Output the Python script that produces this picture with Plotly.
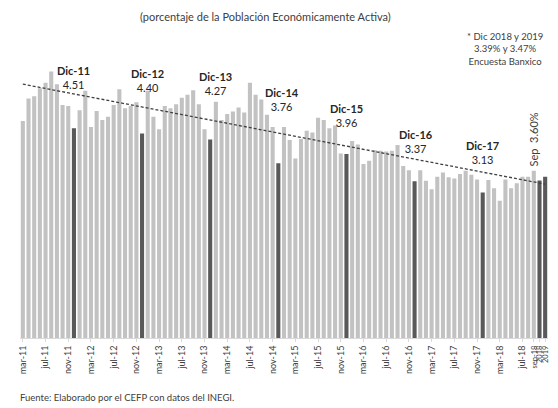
import plotly.graph_objects as go

# ---------------- data ----------------
months = ["ene", "feb", "mar", "abr", "may", "jun", "jul", "ago", "sep", "oct", "nov", "dic"]

u2011 = [4.67, 5.15, 5.20, 5.37, 5.49, 5.73, 5.46, 5.01, 4.99, 4.51]            # mar-dic
u2012 = [4.90, 5.32, 4.54, 4.88, 4.69, 4.76, 5.01, 5.35, 4.94, 4.99, 5.07, 4.40]
u2013 = [5.32, 4.76, 4.49, 4.99, 4.94, 5.03, 5.17, 5.23, 5.33, 5.03, 4.49, 4.27]
u2014 = [5.08, 4.69, 4.82, 4.87, 4.96, 4.85, 5.49, 5.23, 5.13, 4.80, 4.54, 3.76]
u2015 = [4.54, 4.26, 3.86, 4.28, 4.46, 4.42, 4.74, 4.69, 4.51, 4.57, 3.97, 3.96]
u2016 = [4.24, 4.16, 3.74, 3.81, 4.04, 4.03, 4.01, 4.03, 4.15, 3.70, 3.61, 3.37]
u2017 = [3.61, 3.38, 3.20, 3.47, 3.56, 3.46, 3.43, 3.53, 3.60, 3.51, 3.41, 3.13]
u2018 = [3.40, 3.22, 2.95, 3.41, 3.22, 3.33, 3.47, 3.47, 3.60]                  # ene-sep
forecast_labels = ["2018", "2019"]
forecast_values = [3.39, 3.47]

trend_values = [5.46, 3.31]   # dotted trend line, start / end

dec_labels = ["Dic-11", "Dic-12", "Dic-13", "Dic-14", "Dic-15", "Dic-16", "Dic-17"]
dec_values = [4.51, 4.40, 4.27, 3.76, 3.96, 3.37, 3.13]

# ---------------- build series ----------------
yearly = [("11", u2011, 2), ("12", u2012, 0), ("13", u2013, 0), ("14", u2014, 0),
          ("15", u2015, 0), ("16", u2016, 0), ("17", u2017, 0), ("18", u2018, 0)]
cats, vals = [], []
for yy, series, start in yearly:
    for k, v in enumerate(series):
        cats.append(f"{months[start + k]}-{yy}")
        vals.append(v)
cats += forecast_labels
vals += forecast_values

LIGHT = "#c2c2c2"
DARK = "#595959"
colors = [DARK if (c.startswith("dic") or c in forecast_labels) else LIGHT for c in cats]

main_ticks = [c for c in cats if c[:3] in ("mar", "jul", "nov")]
end_ticks = ["sep-18"] + forecast_labels
tickvals = main_ticks + end_ticks
ticktext = main_ticks + [f"<span style='font-size:7.5px'>{t}</span>" for t in end_ticks]

fig = go.Figure()
fig.add_trace(go.Bar(x=cats, y=vals, marker=dict(color=colors, line=dict(width=0)),
                     hoverinfo="x+y"))
fig.add_trace(go.Scatter(x=[cats[0], cats[-1]], y=trend_values, mode="lines",
                         line=dict(color="#404040", width=1.3, dash="3px,2px"),
                         hoverinfo="skip"))

FONT = "Lato"
PLOT_BOTTOM = 338
PLOT_H = 318

def py(pix):
    return (PLOT_BOTTOM - pix) / PLOT_H

def px(pix):
    return (pix - 20) / 528

# December labels
label_center = [5.61, 5.53, 5.47, 5.14, 4.79, 4.22, 3.98]
label_shift = [0, 5, 5, 4, 0, 1, 0]
for lab, v, yc, xs in zip(dec_labels, dec_values, label_center, label_shift):
    cat = "dic-" + lab[-2:]
    fig.add_annotation(x=cat, y=yc, xref="x", yref="y", showarrow=False,
                       text=f"<b>{lab}</b><br>{v:.2f}", xshift=xs,
                       xanchor="center", yanchor="middle",
                       font=dict(family=FONT, size=11, color="#262626"),
                       align="center")

# Sep label (rotated)
fig.add_annotation(x="sep-18", y=u2018[-1], xref="x", yref="y", showarrow=False,
                   text=f"Sep  {u2018[-1]:.2f}%", textangle=-90, yanchor="bottom",
                   xanchor="center", yshift=2,
                   font=dict(family=FONT, size=11, color="#404040"))

# Title
fig.add_annotation(x=px(265), y=py(16), xref="paper", yref="paper", showarrow=False,
                   text="(porcentaje de la Población Económicamente Activa)",
                   xanchor="center", yanchor="middle",
                   font=dict(family=FONT, size=11, color="#404040"))

# Note box
fig.add_annotation(x=px(505), y=py(29), xref="paper", yref="paper", showarrow=False,
                   text=(f"* Dic {forecast_labels[0]} y {forecast_labels[1]}<br>"
                         f"{forecast_values[0]:.2f}% y {forecast_values[1]:.2f}%<br>Encuesta Banxico"),
                   align="center", xanchor="center", yanchor="top",
                   font=dict(family=FONT, size=9.5, color="#404040"))

# Footer
fig.add_annotation(x=px(18), y=py(397), xref="paper", yref="paper", showarrow=False,
                   text="Fuente: Elaborado por el CEFP con datos del INEGI.",
                   xanchor="left", yanchor="middle",
                   font=dict(family=FONT, size=9.5, color="#404040"))

fig.update_layout(
    width=558, height=408,
    margin=dict(l=20, r=10, t=20, b=70),
    paper_bgcolor="white", plot_bgcolor="white",
    showlegend=False, bargap=0.28,
    xaxis=dict(type="category", categoryorder="array", categoryarray=cats,
               tickmode="array", tickvals=tickvals, ticktext=ticktext,
               tickangle=-90, tickfont=dict(family=FONT, size=9, color="#404040"),
               showline=True, linecolor="#d9d9d9", linewidth=1,
               ticks="outside", ticklen=3, tickcolor="#d9d9d9",
               showgrid=False, zeroline=False, range=[-0.5, len(cats) - 0.5],
               automargin=False),
    yaxis=dict(range=[0, 6.84], visible=False, showgrid=False, zeroline=False),
)

fig.write_html("out.html", config={"displayModeBar": False},
               post_script="document.body.style.margin='0px';")
